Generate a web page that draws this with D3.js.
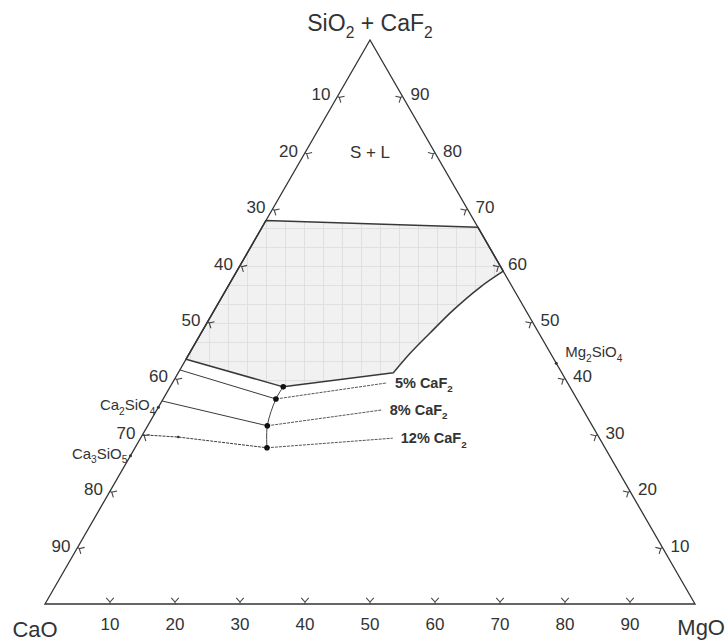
<!DOCTYPE html>
<html>
<head>
<meta charset="utf-8">
<title>CaO - MgO - (SiO2 + CaF2)</title>
<script src="https://cdn.jsdelivr.net/npm/d3@7"></script>
<style>
  body { margin: 0; background: #fff; }
  text { font-family: "Liberation Sans", Arial, sans-serif; fill: #333; }
</style>
</head>
<body>
<div id="chart"></div>
<script>
// composiciones en %: [SiO2+CaF2, CaO, MgO]
const tickValues = [10, 20, 30, 40, 50, 60, 70, 80, 90]

// zona sombreada (borde superior recto, borde derecho curvo, borde inferior recto)
const regionTop = [[68, 32, 0], [66.8, 0, 33.2], [59, 0, 41]]
const regionCurve = [[59, 0, 41], [56.15, 5, 38.85], [52.1, 11.15, 36.75], [48, 16.8, 35.2], [44.45, 21.6, 33.95], [41, 25.9, 33.1]]
const regionBottom = [[41, 25.9, 33.1], [38.5, 44.1, 17.4], [43.4, 56.6, 0]]

// curvas con CaF2
const line5Left = [[41.5, 58.5, 0], [36.35, 46.3, 17.35]]
const line5Right = [[36.35, 46.3, 17.35], [39.2, 27.8, 33.0]]
const line8Left = [[36, 64, 0], [31.6, 50.0, 18.4]]
const line8Right = [[31.6, 50.0, 18.4], [34.4, 31.0, 34.6]]
const line12Left = [[30, 70, 0], [29.6, 64.7, 5.7], [27.7, 52.0, 20.3]]
const line12Right = [[27.7, 52.0, 20.3], [29.4, 31.8, 38.8]]
const lineLabels = ["5% CaF2", "8% CaF2", "12% CaF2"]

// puntos de union
const joints = [[38.5, 44.1, 17.4], [36.35, 46.3, 17.35], [31.6, 50.0, 18.4], [27.7, 52.0, 20.3]]

// compuestos sobre los lados
const compounds = [
  { name: "Ca2SiO4", comp: [34.9, 65.1, 0] },
  { name: "Ca3SiO5", comp: [26.3, 73.7, 0] },
  { name: "Mg2SiO4", comp: [42.7, 0, 57.3] }
]

const width = 726
const height = 643
const R3 = Math.sqrt(3) / 2

const x = d3.scaleLinear().domain([0, 1]).range([45, 695])
const y = d3.scaleLinear().domain([0, R3]).range([604, 40])

// ternario -> pantalla
function proj(d) {
  const s = d[0] + d[1] + d[2]
  const a = d[0] / s, c = d[2] / s
  return [x(c + a / 2), y(a * R3)]
}

const svg = d3.select("#chart").append("svg")
  .attr("width", width)
  .attr("height", height)

// patron de relleno gris con cuadricula
const pat = svg.append("defs").append("pattern")
  .attr("id", "grid")
  .attr("patternUnits", "userSpaceOnUse")
  .attr("width", 19).attr("height", 19)
pat.append("rect").attr("width", 19).attr("height", 19).attr("fill", "#f1f1f1")
pat.append("path").attr("d", "M0 0.5H19M0.5 0V19")
  .attr("stroke", "#dcdcdc").attr("stroke-width", 0.8)

// texto con subindices
function chem(sel, str, size) {
  const parts = str.split(/(?<=[A-Za-z])(\d+)/)
  let shifted = false
  parts.forEach(function (p, i) {
    if (!p) return
    const t = sel.append("tspan").text(p)
    if (i % 2) {
      t.attr("font-size", size * 0.68).attr("dy", size * 0.3)
      shifted = true
    } else if (shifted) {
      t.attr("dy", -size * 0.3)
      shifted = false
    }
  })
}

const line = d3.line().x(d => proj(d)[0]).y(d => proj(d)[1])
const curve = d3.line().x(d => proj(d)[0]).y(d => proj(d)[1]).curve(d3.curveCatmullRom.alpha(0.5))

// region sombreada
const dRegion = line(regionTop) + curve(regionCurve).replace(/^M/, "L") +
  line(regionBottom.slice(1)).replace(/^M/, "L") + "Z"
svg.append("path")
  .attr("d", dRegion)
  .attr("fill", "url(#grid)")
  .attr("stroke", "#383838")
  .attr("stroke-width", 1.5)
  .attr("stroke-linejoin", "round")

// triangulo
const corners = [[100, 0, 0], [0, 100, 0], [0, 0, 100]]
svg.append("path")
  .attr("d", line(corners) + "Z")
  .attr("fill", "none")
  .attr("stroke", "#333")
  .attr("stroke-width", 1.3)

// marcas y etiquetas de los ejes
const axes = [
  { pt: v => [0, 100 - v, v], n: [0, -1], anchor: "middle", dx: 0, dy: 26 },   // MgO (abajo)
  { pt: v => [100 - v, v, 0], n: [0.866, 0.5], anchor: "end", dx: -7, dy: 4 },  // CaO (izquierda)
  { pt: v => [v, 0, 100 - v], n: [-0.866, 0.5], anchor: "start", dx: 8, dy: 4 } // SiO2+CaF2 (derecha)
]
function rot(v, ang) {
  const c = Math.cos(ang), s = Math.sin(ang)
  return [v[0] * c - v[1] * s, v[0] * s + v[1] * c]
}
axes.forEach(function (ax) {
  tickValues.forEach(function (v) {
    const p = proj(ax.pt(v))
    const q = [p[0] + ax.n[0] * 2, p[1] + ax.n[1] * 2]
    const a1 = rot(ax.n, 0.75), a2 = rot(ax.n, -0.75)
    svg.append("path")
      .attr("d", `M${p[0]},${p[1]}L${q[0]},${q[1]}M${q[0] + a1[0] * 5.5},${q[1] + a1[1] * 5.5}L${q[0]},${q[1]}L${q[0] + a2[0] * 5.5},${q[1] + a2[1] * 5.5}`)
      .attr("fill", "none")
      .attr("stroke", "#444")
      .attr("stroke-width", 1.1)
    svg.append("text")
      .attr("x", p[0] + ax.dx)
      .attr("y", p[1] + ax.dy)
      .attr("text-anchor", ax.anchor)
      .attr("font-size", 17)
      .text(v)
  })
})

// titulos de los vertices
const apexPt = proj(corners[0]), leftPt = proj(corners[1]), rightPt = proj(corners[2])
chem(svg.append("text").attr("x", apexPt[0]).attr("y", apexPt[1] - 9)
  .attr("text-anchor", "middle").attr("font-size", 23), "SiO2 + CaF2", 23)
svg.append("text").attr("x", leftPt[0] - 10).attr("y", leftPt[1] + 33)
  .attr("text-anchor", "middle").attr("font-size", 22).text("CaO")
svg.append("text").attr("x", width - 1).attr("y", rightPt[1] + 31)
  .attr("text-anchor", "end").attr("font-size", 22).text("MgO")

// S + L
const sl = proj([80, 10, 10])
svg.append("text").attr("x", sl[0]).attr("y", sl[1] + 5)
  .attr("text-anchor", "middle").attr("font-size", 17).text("S + L")

// curvas de CaF2
const lefts = [line5Left, line8Left, line12Left]
const rights = [line5Right, line8Right, line12Right]
lefts.forEach(function (d, i) {
  svg.append("path").attr("d", line(d))
    .attr("fill", "none").attr("stroke", "#3a3a3a")
    .attr("stroke-width", 1)
    .attr("stroke-dasharray", i == 2 ? "3,1" : null)
})
rights.forEach(function (d, i) {
  svg.append("path").attr("d", line(d))
    .attr("fill", "none").attr("stroke", "#555")
    .attr("stroke-width", 1)
    .attr("stroke-dasharray", "3,1")
  const e = proj(d[d.length - 1])
  chem(svg.append("text").attr("x", e[0] + 8).attr("y", e[1] + 5)
    .attr("font-size", 14.5).attr("font-weight", "bold"), lineLabels[i], 14.5)
})
// marcador pequeño en la curva de 12%
svg.append("circle")
  .attr("cx", proj(line12Left[1])[0]).attr("cy", proj(line12Left[1])[1])
  .attr("r", 1.3).attr("fill", "#333")

// union de los puntos
svg.append("path").attr("d", curve(joints))
  .attr("fill", "none").attr("stroke", "#444").attr("stroke-width", 1)
svg.selectAll(".joint").data(joints).enter().append("circle")
  .attr("class", "joint")
  .attr("cx", d => proj(d)[0]).attr("cy", d => proj(d)[1])
  .attr("r", 2.8).attr("fill", "#111")

// compuestos
compounds.forEach(function (c) {
  const p = proj(c.comp)
  svg.append("circle").attr("cx", p[0]).attr("cy", p[1]).attr("r", 1.5).attr("fill", "#333")
  const onRight = c.comp[2] > 0
  chem(svg.append("text")
    .attr("x", onRight ? p[0] + 9 : p[0] - 3)
    .attr("y", onRight ? p[1] - 6 : p[1] + 3)
    .attr("text-anchor", onRight ? "start" : "end")
    .attr("font-size", 15), c.name, 15)
})
</script>
</body>
</html>
